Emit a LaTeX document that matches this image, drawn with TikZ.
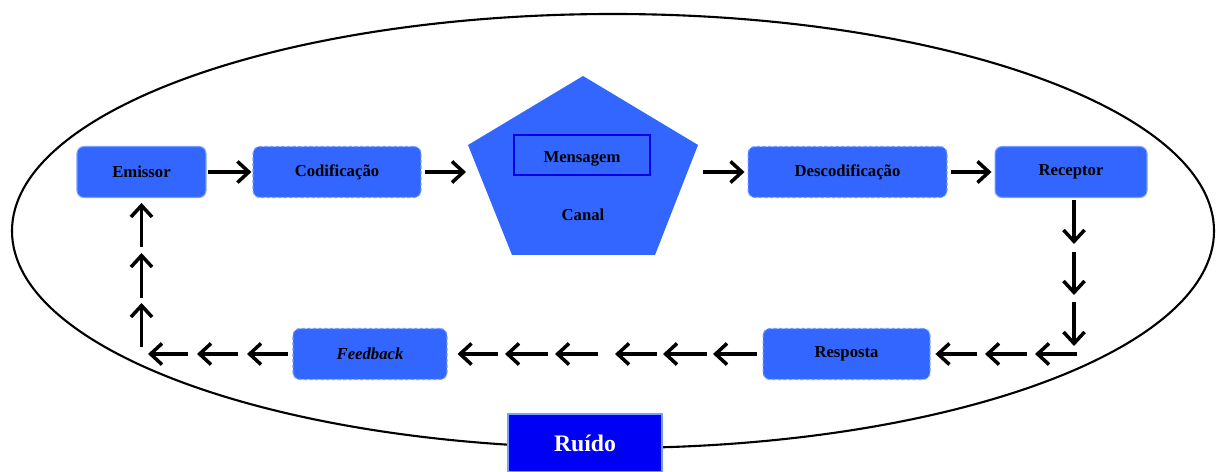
\documentclass[tikz,border=0pt]{standalone}
\usepackage{fontspec}
\setmainfont{Liberation Serif}
\usetikzlibrary{arrows.meta}
\definecolor{caixa}{RGB}{51,102,255}
\definecolor{borda}{RGB}{120,158,255}
\definecolor{ruidocor}{RGB}{0,0,245}
\definecolor{msgborda}{RGB}{0,0,225}
\begin{document}
\begin{tikzpicture}[x=0.02cm,y=-0.02cm]
	\tikzset{etapa/.style = {shape=rectangle,rounded corners=4pt,fill=caixa,draw=borda,line width=.6pt,minimum height=1.02cm,inner sep=0pt,font=\fontsize{9.5}{11}\selectfont\bfseries}}
	\tikzset{codigo/.style = {etapa,dash pattern=on 2pt off 1.2pt}}
	\tikzset{seta/.style = {-{Straight Barb[length=6.5pt,width=12pt]},line width=2pt}}
	\useasboundingbox (0,0) rectangle (1219,472);
	\draw[line width=1.2pt] (613,231) ellipse [x radius=601, y radius=217];
	% linha de cima
	\node[etapa,minimum width=2.58cm] (emissor) at (141.5,172) {Emissor};
	\node[codigo,minimum width=3.36cm] (codif) at (337,172) {Codificação};
	\fill[caixa] (583,76) -- (698,145) -- (655,255) -- (512,255) -- (468,145) -- cycle;
	\node[draw=msgborda,line width=1.1pt,minimum width=2.72cm,minimum height=.8cm,font=\fontsize{9.5}{11}\selectfont\bfseries] (mensagem) at (582,155) {\raisebox{-2.3pt}[\height][\depth]{Mensagem}};
	\node[font=\fontsize{9.5}{11}\selectfont\bfseries] (canal) at (583,215) {Canal};
	\coordinate (canalW) at (466,172);
	\coordinate (canalE) at (703,172);
	\node[codigo,minimum width=3.98cm] (descod) at (847.5,172) {Descodificação};
	\node[etapa,minimum width=3.04cm] (receptor) at (1071,172) {Receptor};
	\draw[seta,shorten <=1.1pt,shorten >=.6pt] (emissor) -- (codif);
	\draw[seta,shorten <=1.7pt] (codif) -- (canalW);
	\draw[seta,shorten >=1.7pt] (canalE) -- (descod);
	\draw[seta,shorten <=1.7pt,shorten >=1.7pt] (descod) -- (receptor);
	% descendo
	\foreach \nome/\y in {d1/200,d2/244,d3/252,d4/295,d5/302,d6/346}
		\coordinate (\nome) at (1074,\y);
	\draw[seta] (d1) -- (d2);
	\draw[seta] (d3) -- (d4);
	\draw[seta] (d5) -- (d6);
	% linha de baixo
	\node[codigo,minimum width=3.34cm] (resposta) at (846.5,354) {Resposta};
	\node[codigo,minimum width=3.08cm,font=\fontsize{9.5}{11}\selectfont\bfseries\itshape] (feedback) at (370,354) {Feedback};
	\foreach \nome/\x in {b1/1077,b2/1035,b3/1027,b4/985,b5/977,m1/713,m2/707,m3/663,m4/657,m5/615,m6/598,m7/555,m8/548,m9/505,m10/498,f1/247,f2/238,f3/197,f4/188,f5/148}
		\coordinate (\nome) at (\x,354);
	\draw[seta] (b1) -- (b2);
	\draw[seta] (b3) -- (b4);
	\draw[seta,shorten >=2.8pt] (b5) -- (resposta);
	\draw[seta,shorten <=3.4pt] (resposta) -- (m1);
	\draw[seta] (m2) -- (m3);
	\draw[seta] (m4) -- (m5);
	\draw[seta] (m6) -- (m7);
	\draw[seta] (m8) -- (m9);
	\draw[seta,shorten >=5.7pt] (m10) -- (feedback);
	\draw[seta,shorten <=2.8pt] (feedback) -- (f1);
	\draw[seta] (f2) -- (f3);
	\draw[seta] (f4) -- (f5);
	% subindo
	\foreach \nome/\y in {u1/347,u2/303,u3/298,u4/253,u5/247}
		\coordinate (\nome) at (141.5,\y);
	\draw[seta] (u1) -- (u2);
	\draw[seta] (u3) -- (u4);
	\draw[seta,shorten >=2.8pt] (u5) -- (emissor);
	% ruido
	\node[fill=ruidocor,draw=borda,line width=.6pt,minimum width=3.08cm,minimum height=1.16cm,text=white,font=\fontsize{13.5}{15}\selectfont\bfseries] (ruido) at (585,443) {Ruído};
\end{tikzpicture}
\end{document}
